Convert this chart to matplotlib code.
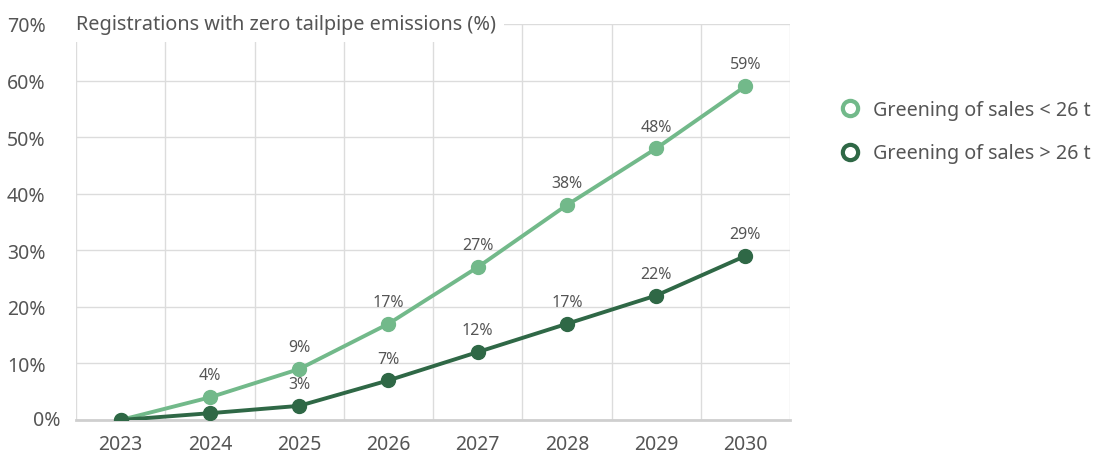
import matplotlib
matplotlib.use("Agg")
import matplotlib.pyplot as plt
from matplotlib.lines import Line2D

plt.rcParams['font.family'] = ['Noto Sans', 'DejaVu Sans']

years = ['2023', '2024', '2025', '2026', '2027', '2028', '2029', '2030']
below_26t = [0, 4, 9, 17, 27, 38, 48, 59]
above_26t = [0, 1.2, 2.5, 7, 12, 17, 22, 29]
below_labels = ['', '4%', '9%', '17%', '27%', '38%', '48%', '59%']
above_labels = ['', '', '3%', '7%', '12%', '17%', '22%', '29%']
y_ticks = [0, 10, 20, 30, 40, 50, 60, 70]

light = '#72b98a'
dark = '#2f6846'
text_col = '#555555'
grid_col = '#dcdcdc'

fig = plt.figure(figsize=(11.01, 4.64), dpi=100)
ax = fig.add_axes([76 / 1101, 1 - 421 / 464, (790 - 76) / 1101, (421 - 25) / 464])

x = list(range(len(years)))
ax.plot(x, below_26t, color=light, lw=2.8, marker='o', ms=10, zorder=3)
ax.plot(x, above_26t, color=dark, lw=2.8, marker='o', ms=10, zorder=4)

for xi, v, lab in zip(x, below_26t, below_labels):
    if lab:
        ax.annotate(lab, (xi, v), xytext=(0, 10), textcoords='offset points',
                    ha='center', va='bottom', fontsize=11.5, color=text_col)
for xi, v, lab in zip(x, above_26t, above_labels):
    if lab:
        ax.annotate(lab, (xi, v), xytext=(0, 10), textcoords='offset points',
                    ha='center', va='bottom', fontsize=11.5, color=text_col)

ax.set_xlim(-0.5, len(years) - 0.5)
ax.set_ylim(0, 70)
ax.set_xticks(x)
ax.set_xticklabels(years)
ax.set_yticks(y_ticks)
# 0% sits a bit further right in the original, drawn separately below
ax.set_yticklabels(['' if t == 0 else f'{t}%' for t in y_ticks])
ax.set_xticks([i + 0.5 for i in range(-1, len(years))], minor=True)
ax.grid(True, which='minor', axis='x', color=grid_col, lw=1)
ax.grid(True, which='major', axis='y', color=grid_col, lw=1)
ax.tick_params(axis='both', which='both', length=0, labelsize=14, colors=text_col)
ax.tick_params(axis='y', pad=22)
ax.tick_params(axis='x', pad=10)
for s in ['top', 'right', 'left']:
    ax.spines[s].set_visible(False)
ax.spines['bottom'].set_color('#cfcfcf')
ax.spines['bottom'].set_linewidth(2)
ax.set_axisbelow(True)

ax.annotate('0%', (0, 0), xycoords=ax.get_yaxis_transform(), xytext=(-11, 0),
            textcoords='offset points', ha='right', va='center', fontsize=14,
            color=text_col, annotation_clip=False)

ax.text(0.0, 70, 'Registrations with zero tailpipe emissions (%)',
        transform=ax.get_yaxis_transform(), ha='left', va='center',
        fontsize=14.3, color=text_col, zorder=5,
        bbox=dict(facecolor='white', edgecolor='none', pad=6))

handles = [
    Line2D([], [], ls='none', marker='o', ms=11, mfc='white', mec=light, mew=3,
           label='Greening of sales < 26 t'),
    Line2D([], [], ls='none', marker='o', ms=11, mfc='white', mec=dark, mew=3,
           label='Greening of sales > 26 t'),
]
leg = fig.legend(handles=handles, loc='upper left', bbox_to_anchor=(822 / 1101, 1 - 83 / 464),
                 frameon=False, fontsize=14.2, labelspacing=1.2, handletextpad=0.7,
                 handlelength=1.0)
for t in leg.get_texts():
    t.set_color(text_col)

fig.savefig('out.png', dpi=100)
